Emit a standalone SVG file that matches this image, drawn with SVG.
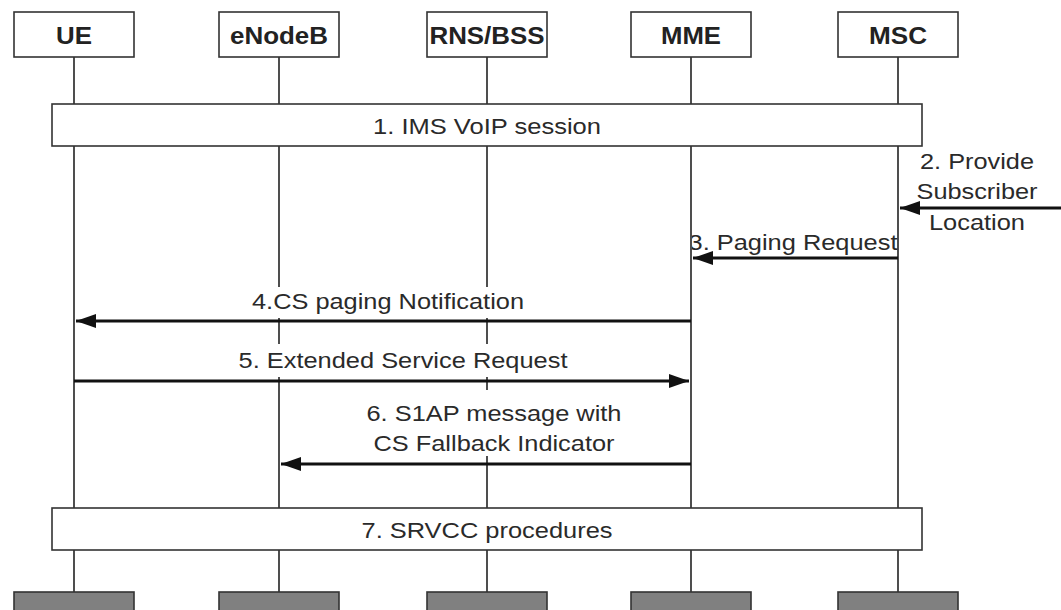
<svg xmlns="http://www.w3.org/2000/svg" width="1061" height="610" viewBox="0 0 1061 610">
<style>
.hdr{fill:#fff;stroke:#333;stroke-width:1.6}
.hdt{font-family:"Liberation Sans",Arial,sans-serif;font-weight:bold;font-size:23px;fill:#222;text-anchor:middle}
.life{stroke:#222;stroke-width:1.6}
.span{fill:#fff;stroke:#333;stroke-width:1.6}
.txt{font-family:"Liberation Sans",Arial,sans-serif;font-size:22px;fill:#2a2a2a;text-anchor:middle}
.bg{fill:#fff;stroke:none}
.msg{stroke:#111;stroke-width:3;fill:none;marker-end:url(#ah)}
.end{fill:#808080;stroke:#333;stroke-width:1.6}
</style>
<defs>
<marker id="ah" markerUnits="userSpaceOnUse" markerWidth="22" markerHeight="16" refX="20" refY="7" orient="auto">
<path d="M0,0 L20,7 L0,14 Z" fill="#111"/>
</marker>
<clipPath id="c3"><rect x="692" y="225" width="210" height="35"/></clipPath>
</defs>
<g id="lifelines">
<line class="life" x1="74" y1="57" x2="74" y2="592"/>
<line class="life" x1="279" y1="57" x2="279" y2="592"/>
<line class="life" x1="487" y1="57" x2="487" y2="592"/>
<line class="life" x1="691" y1="57" x2="691" y2="592"/>
<line class="life" x1="898" y1="57" x2="898" y2="592"/>
</g>
<g id="UE"><rect class="hdr" x="14" y="12" width="120" height="45"/><text class="hdt" x="74" y="43.5" textLength="36" lengthAdjust="spacingAndGlyphs">UE</text><rect class="end" x="14" y="592" width="120" height="24"/></g>
<g id="eNodeB"><rect class="hdr" x="219" y="12" width="120" height="45"/><text class="hdt" x="279" y="43.5" textLength="98" lengthAdjust="spacingAndGlyphs">eNodeB</text><rect class="end" x="219" y="592" width="120" height="24"/></g>
<g id="RNSBSS"><rect class="hdr" x="427" y="12" width="120" height="45"/><text class="hdt" x="487" y="43.5" textLength="115" lengthAdjust="spacingAndGlyphs">RNS/BSS</text><rect class="end" x="427" y="592" width="120" height="24"/></g>
<g id="MME"><rect class="hdr" x="631" y="12" width="120" height="45"/><text class="hdt" x="691" y="43.5" textLength="60" lengthAdjust="spacingAndGlyphs">MME</text><rect class="end" x="631" y="592" width="120" height="24"/></g>
<g id="MSC"><rect class="hdr" x="838" y="12" width="120" height="45"/><text class="hdt" x="898" y="43.5" textLength="58" lengthAdjust="spacingAndGlyphs">MSC</text><rect class="end" x="838" y="592" width="120" height="24"/></g>
<g id="step1"><rect class="span" x="52" y="104" width="870" height="42"/><text class="txt" x="487" y="134" textLength="228" lengthAdjust="spacingAndGlyphs">1. IMS VoIP session</text></g>
<g id="step7"><rect class="span" x="52" y="508" width="870" height="42"/><text class="txt" x="487" y="538" textLength="251" lengthAdjust="spacingAndGlyphs">7. SRVCC procedures</text></g>
<g id="connectors">
<line class="msg" x1="1061" y1="208" x2="900" y2="208"/>
<line class="msg" x1="898" y1="258" x2="693" y2="258"/>
<line class="msg" x1="691" y1="321" x2="76" y2="321"/>
<line class="msg" x1="74" y1="381" x2="689" y2="381"/>
<line class="msg" x1="691" y1="464" x2="281" y2="464"/>
</g>
<g id="labels">
<rect class="bg" x="250" y="287" width="277" height="31"/>
<rect class="bg" x="236" y="344" width="335" height="33"/>
<rect class="bg" x="364" y="390" width="261" height="66"/>
<text class="txt" x="977" y="169" textLength="114" lengthAdjust="spacingAndGlyphs">2. Provide</text>
<text class="txt" x="977" y="199" textLength="121" lengthAdjust="spacingAndGlyphs">Subscriber</text>
<text class="txt" x="977" y="230" textLength="96" lengthAdjust="spacingAndGlyphs">Location</text>
<text class="txt" x="793" y="250" textLength="209" lengthAdjust="spacingAndGlyphs" clip-path="url(#c3)">3. Paging Request</text>
<text class="txt" x="388" y="309" textLength="272" lengthAdjust="spacingAndGlyphs">4.CS paging Notification</text>
<text class="txt" x="403" y="368" textLength="329" lengthAdjust="spacingAndGlyphs">5. Extended Service Request</text>
<text class="txt" x="494" y="421" textLength="255" lengthAdjust="spacingAndGlyphs">6. S1AP message with</text>
<text class="txt" x="494" y="451" textLength="241" lengthAdjust="spacingAndGlyphs">CS Fallback Indicator</text>
</g>
</svg>
